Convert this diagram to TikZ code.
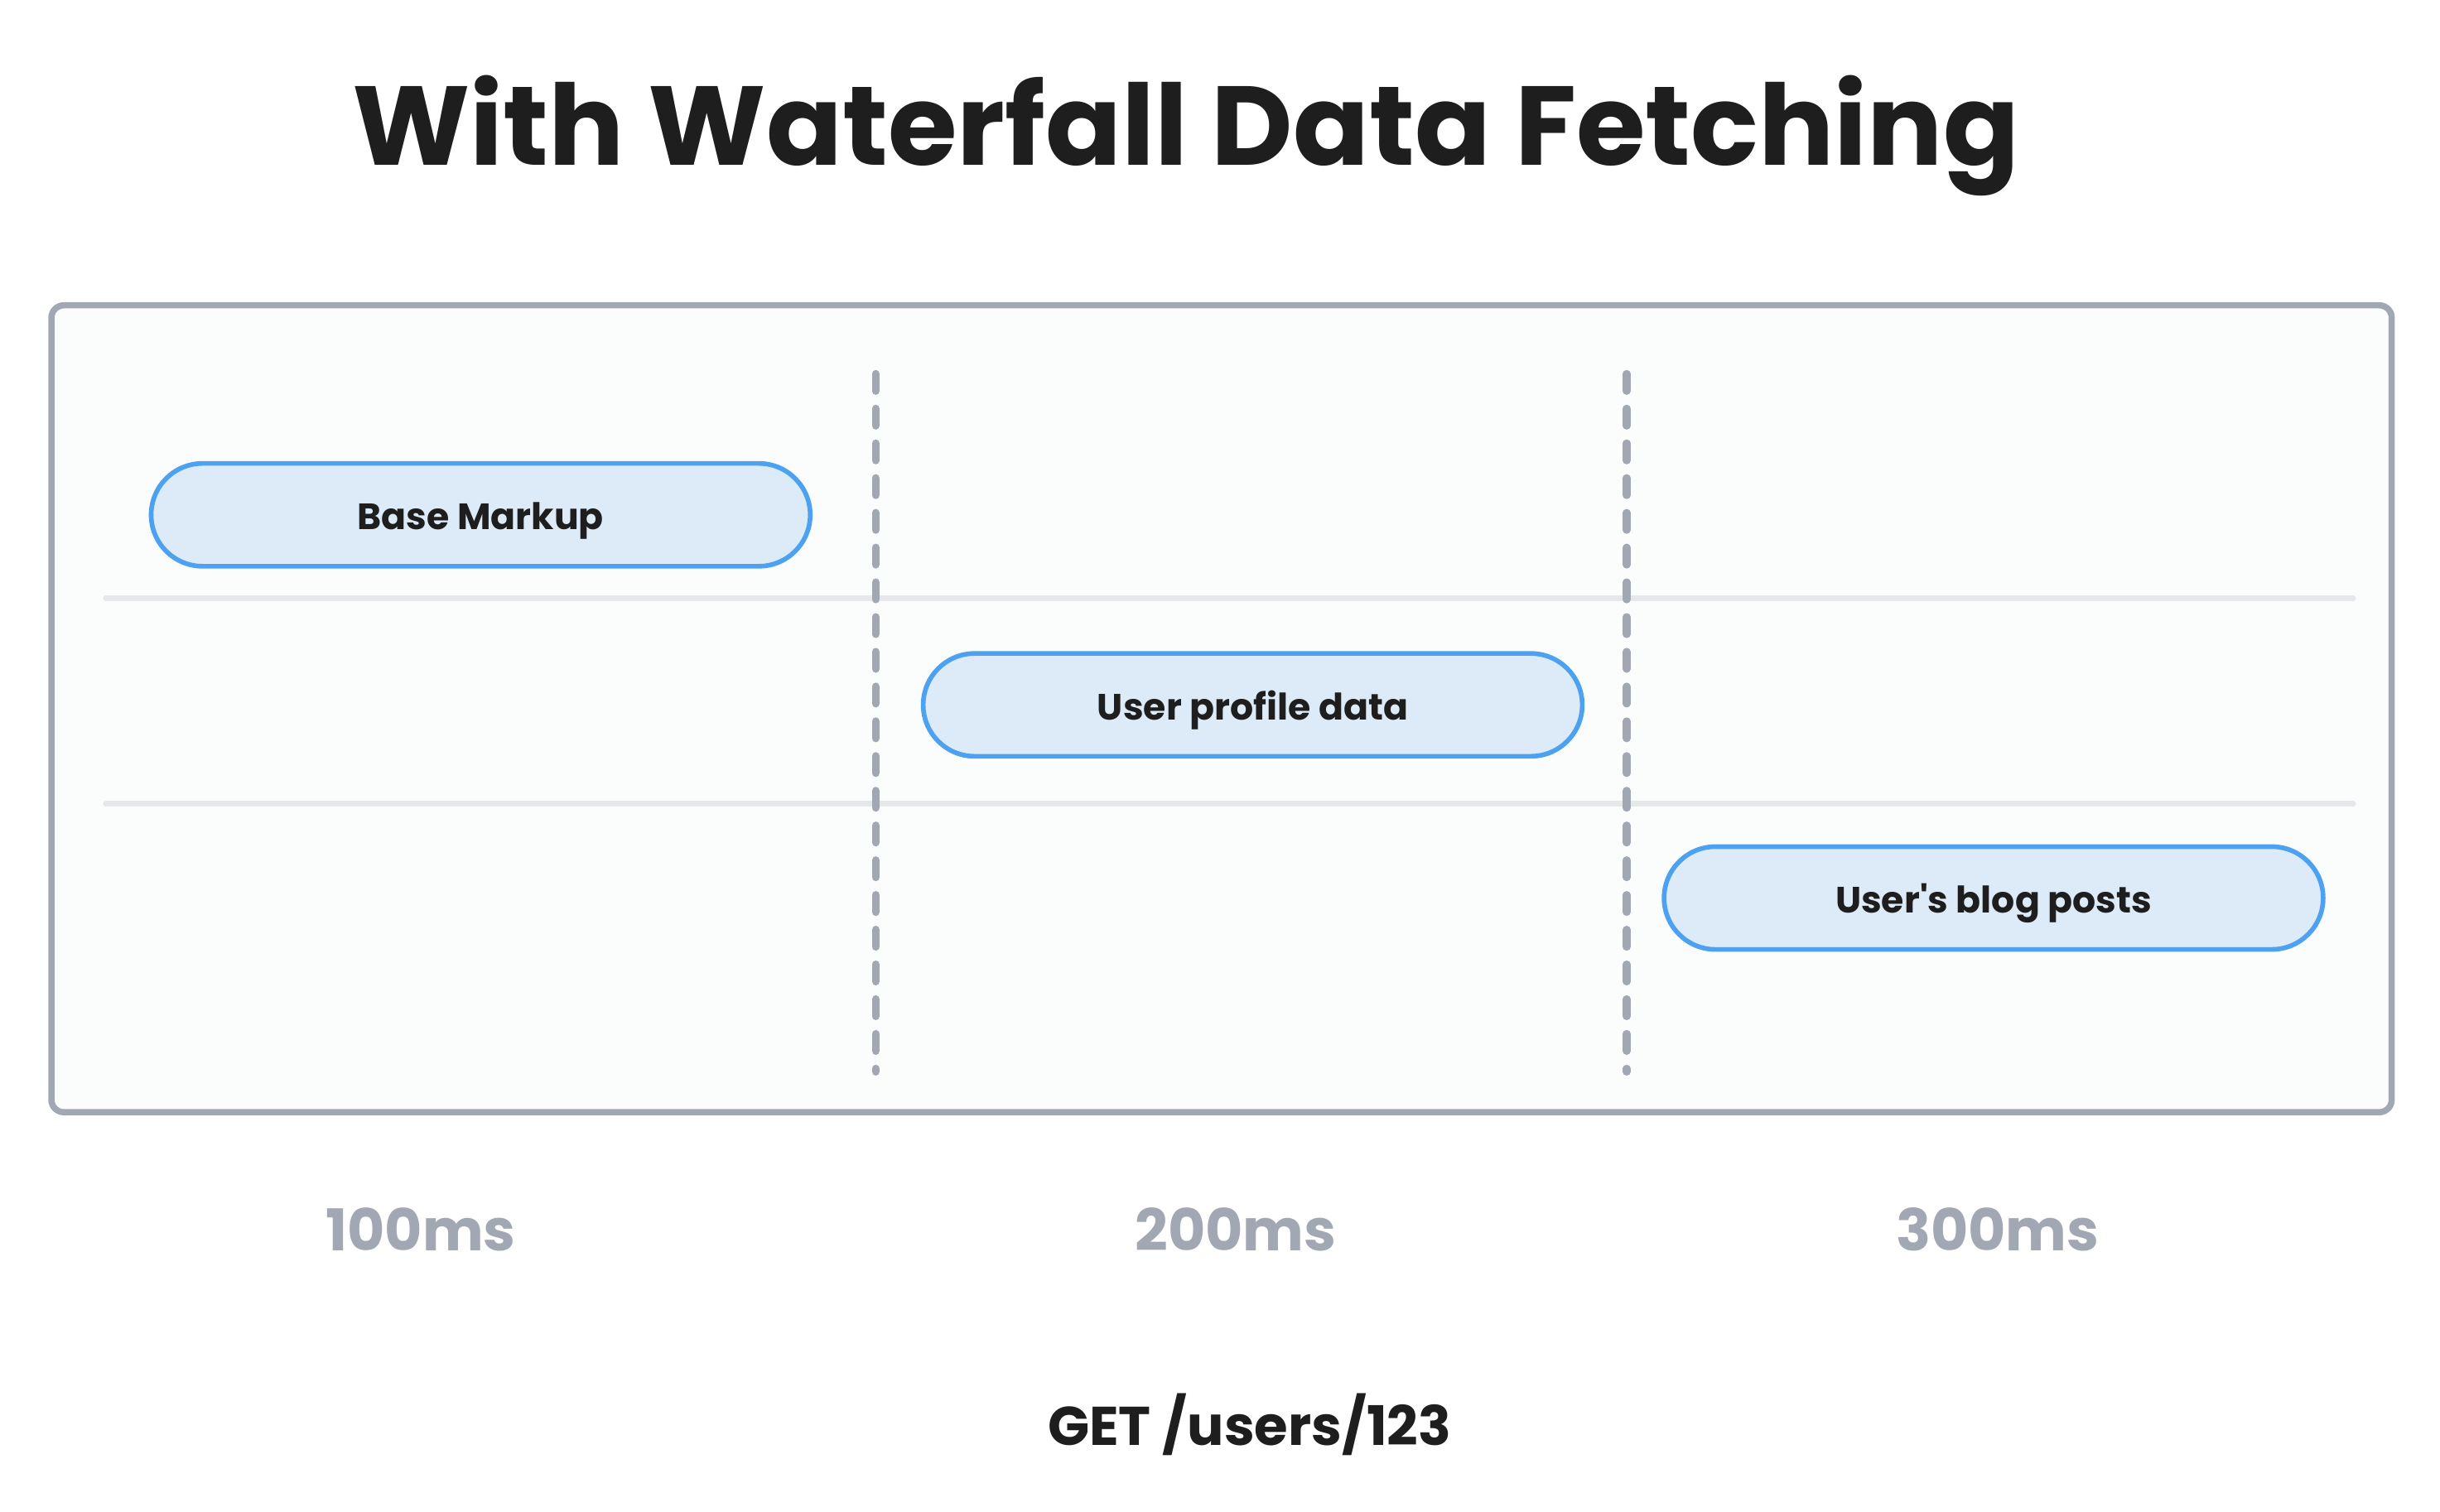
\documentclass[tikz,border=0pt]{standalone}
\usepackage{fontspec}
\setmainfont{Poppins}
\definecolor{inkdark}{HTML}{1E1E1E}
\definecolor{framegray}{HTML}{A1A8B3}
\definecolor{framefill}{HTML}{FBFDFD}
\definecolor{rowgray}{HTML}{E5E7EB}
\definecolor{pillblue}{HTML}{4CA2F0}
\definecolor{pillfill}{HTML}{DDEBF9}
\definecolor{timegray}{HTML}{A1A8B3}
\tikzset{
  frame/.style={draw=framegray, fill=framefill, line width=4pt, rounded corners=8pt},
  rowline/.style={draw=rowgray, line width=4pt, line cap=round},
  tickline/.style={draw=framegray, line width=5pt, line cap=round, dash pattern=on 11pt off 11.3pt},
  pill/.style={draw=pillblue, fill=pillfill, line width=3pt, rounded corners=33pt,
    minimum width=423pt, minimum height=66pt, inner sep=0pt,
    text height=19pt, text depth=0pt, text=inkdark,
    font=\fontsize{23.5}{27}\selectfont\bfseries},
  title/.style={anchor=base, text=inkdark, inner sep=0pt, font=\fontsize{72}{78}\selectfont\bfseries},
  timelabel/.style={anchor=base, text=timegray, inner sep=0pt, font=\fontsize{37}{40}\selectfont\bfseries},
  reqlabel/.style={anchor=base, text=inkdark, inner sep=0pt, font=\fontsize{35}{38}\selectfont\bfseries}
}
\begin{document}
\begin{tikzpicture}[x=1pt, y=-1pt]
\useasboundingbox (0,0) rectangle (1566,970.6);
\fill[white] (0,0) rectangle (1566,970.6);

\node[title] (ttl) at (761,106) {With Waterfall Data Fetching};

\draw[frame] (33,196) rectangle (1535,714);

\coordinate (r1a) at (68,384);
\coordinate (r1b) at (1510,384);
\coordinate (r2a) at (68,516);
\coordinate (r2b) at (1510,516);
\draw[rowline] (r1a) -- (r1b);
\draw[rowline] (r2a) -- (r2b);

\coordinate (t1a) at (562,240);
\coordinate (t1b) at (562,688);
\coordinate (t2a) at (1044,240);
\coordinate (t2b) at (1044,688);
\draw[tickline] (t1a) -- (t1b);
\draw[tickline] (t2a) -- (t2b);

\node[pill] (base) at (308.5,330.5) {Base Markup};
\node[pill] (profile) at (804,452.5) {User profile data};
\node[pill] (posts) at (1279.5,576.5) {User\textquotesingle s blog posts};

\node[timelabel] (ms1) at (270,803) {100ms};
\node[timelabel] (ms2) at (793,803) {200ms};
\node[timelabel] (ms3) at (1282,803) {300ms};

\node[reqlabel] (req) at (802,928) {GET /users/123};
\end{tikzpicture}
\end{document}
